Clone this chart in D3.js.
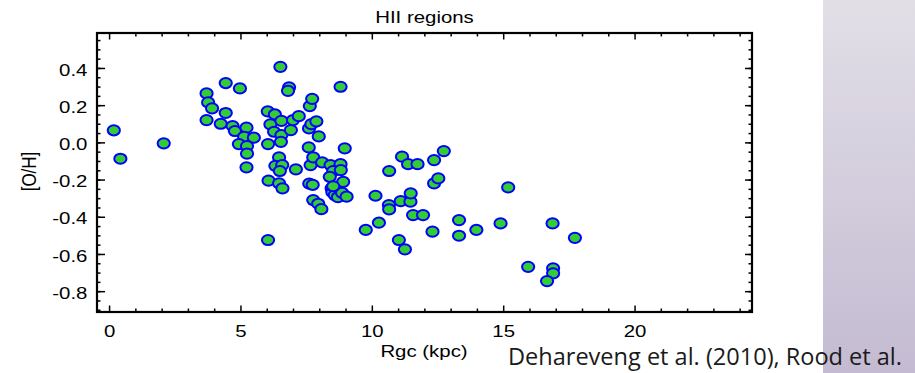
<!DOCTYPE html>
<html>
<head>
<meta charset="utf-8">
<script src="https://cdn.jsdelivr.net/npm/d3@7"></script>
<style>
  body { margin: 0; background: #ffffff; }
  svg { display: block; }
</style>
</head>
<body>
<div id="chart"></div>
<script>
// galactocentric radius (kpc) and [O/H] of each HII region
const rgc = [
  0.18, 0.43, 2.08, 3.71, 3.77, 3.92, 3.71, 4.44, 4.98, 4.44,
  4.25, 4.70, 4.79, 5.23, 5.14, 5.51, 4.94, 5.25, 5.25, 5.23,
  6.04, 6.31, 6.14, 6.56, 6.28, 6.56, 6.92, 6.54, 6.05, 6.52,
  6.85, 6.81, 7.00, 7.22, 7.64, 7.73, 7.61, 7.70, 7.89, 7.98,
  8.81, 7.60, 8.97, 6.47, 6.33, 6.59, 6.50, 7.11, 7.67, 7.77,
  8.11, 8.43, 8.81, 8.53, 8.82, 8.40, 8.91, 6.07, 6.47, 7.62,
  7.75, 10.66, 11.15, 11.38, 11.74, 12.37, 12.74, 12.37, 12.53, 6.05,
  6.60, 7.77, 7.96, 8.08, 8.47, 8.50, 8.59, 8.71, 8.87, 9.04,
  8.53, 10.14, 10.65, 10.66, 11.10, 11.47, 11.48, 11.57, 11.95, 9.77,
  10.27, 11.03, 11.26, 12.31, 13.32, 13.32, 15.19, 13.98, 14.90, 16.88,
  17.73, 15.95, 16.90, 16.90, 16.67
];
const oh = [
  0.065, -0.088, -0.005, 0.263, 0.215, 0.183, 0.120, 0.319, 0.290, 0.158,
  0.100, 0.088, 0.061, 0.079, 0.030, 0.025, -0.009, -0.020, -0.061, -0.134,
  0.167, 0.150, 0.097, 0.116, 0.057, 0.039, 0.066, 0.003, -0.009, 0.406,
  0.296, 0.277, 0.120, 0.141, 0.195, 0.234, 0.075, 0.098, 0.113, 0.032,
  0.299, -0.027, -0.032, -0.081, -0.126, -0.122, -0.154, -0.145, -0.122, -0.081,
  -0.108, -0.122, -0.117, -0.154, -0.149, -0.185, -0.212, -0.206, -0.220, -0.222,
  -0.228, -0.154, -0.077, -0.117, -0.117, -0.095, -0.047, -0.220, -0.194, -0.525,
  -0.247, -0.310, -0.330, -0.359, -0.247, -0.268, -0.283, -0.295, -0.272, -0.292,
  -0.236, -0.287, -0.337, -0.360, -0.316, -0.319, -0.274, -0.391, -0.391, -0.471,
  -0.432, -0.525, -0.575, -0.480, -0.418, -0.502, -0.242, -0.471, -0.436, -0.436,
  -0.513, -0.669, -0.677, -0.704, -0.746
];

const xTicks = [0, 5, 10, 15, 20];
const yTicks = [-0.8, -0.6, -0.4, -0.2, 0.0, 0.2, 0.4];
const title = "HII regions";
const xTitle = "Rgc (kpc)";
const yTitle = "[O/H]";
const credit = "Dehareveng et al. (2010), Rood et al.";

const width = 915;
const height = 373;
const box = { left: 97, right: 752, top: 33, bottom: 312 };
const stretch = 1.2; // the original picture is squeezed wider than tall
const font = "'Liberation Sans', Helvetica, Arial, sans-serif";

const svg = d3.select("#chart")
  .append("svg")
  .attr("width", width)
  .attr("height", height);

// lavender slide strip on the right
const grad = svg.append("defs").append("linearGradient")
  .attr("id", "strip")
  .attr("x1", 0).attr("y1", 0).attr("x2", 0).attr("y2", 1);
grad.append("stop").attr("offset", "0%").attr("stop-color", "#e2dfe7");
grad.append("stop").attr("offset", "100%").attr("stop-color", "#c4bbd2");
svg.append("rect")
  .attr("x", 823).attr("y", 0)
  .attr("width", width - 823).attr("height", height)
  .attr("fill", "url(#strip)");

const x = d3.scaleLinear().domain([-0.46, 24.47]).range([box.left, box.right]);
const y = d3.scaleLinear().domain([-0.912, 0.588]).range([box.bottom, box.top]);

const xMinor = d3.range(0, 25, 1);
const yMinor = d3.range(-0.9, 0.58, 0.05);

// ticks on all four sides, pointing inward
function ticks(axis, transform, values, size, digits) {
  const g = svg.append("g")
    .attr("transform", transform)
    .call(axis.tickValues(values).tickSize(size).tickSizeOuter(0)
      .tickFormat(digits == null ? "" : (d => d.toFixed(digits))));
  g.select(".domain").remove();
  g.selectAll("line").attr("stroke", "#000").attr("stroke-width", 1.5);
  g.selectAll("text")
    .attr("fill", "#000")
    .style("font-family", font)
    .style("font-size", "17px");
  return g;
}

const bottom = ticks(d3.axisBottom(x).tickPadding(13), `translate(0,${box.bottom})`, xTicks, -6.5, 0);
bottom.selectAll("text").attr("transform", `scale(${stretch},1)`);
ticks(d3.axisBottom(x), `translate(0,${box.bottom})`, xMinor.filter(v => !xTicks.includes(v)), -3.5, null);
ticks(d3.axisTop(x), `translate(0,${box.top})`, xTicks, -6.5, null);
ticks(d3.axisTop(x), `translate(0,${box.top})`, xMinor.filter(v => !xTicks.includes(v)), -3.5, null);

const left = ticks(d3.axisLeft(y).tickPadding(8), `translate(${box.left},0)`, yTicks, -8, 1);
left.selectAll("text")
  .attr("dy", "0.42em")
  .attr("transform", `scale(${stretch},1)`);
ticks(d3.axisLeft(y), `translate(${box.left},0)`, yMinor, -3.5, null);
ticks(d3.axisRight(y), `translate(${box.right},0)`, yTicks, -7, null);
ticks(d3.axisRight(y), `translate(${box.right},0)`, yMinor, -3.5, null);

svg.append("rect")
  .attr("x", box.left).attr("y", box.top)
  .attr("width", box.right - box.left).attr("height", box.bottom - box.top)
  .attr("fill", "none")
  .attr("stroke", "#000")
  .attr("stroke-width", 2.2);

// the HII regions
svg.append("g")
  .selectAll("ellipse")
  .data(d3.zip(rgc, oh))
  .enter()
  .append("ellipse")
  .attr("cx", d => x(d[0]))
  .attr("cy", d => y(d[1]))
  .attr("rx", 6.1)
  .attr("ry", 5.1)
  .attr("fill", "#33cc33")
  .attr("stroke", "#0000ff")
  .attr("stroke-width", 2);

// titles
svg.append("text")
  .attr("transform", `translate(424.5,22.5) scale(${stretch},1)`)
  .attr("text-anchor", "middle")
  .style("font-family", font)
  .style("font-size", "17px")
  .text(title);

svg.append("text")
  .attr("transform", `translate(424,357) scale(${stretch},1)`)
  .attr("text-anchor", "middle")
  .style("font-family", font)
  .style("font-size", "17px")
  .text(xTitle);

svg.append("text")
  .attr("transform", `translate(35.5,171.5) scale(${stretch},1) rotate(-90)`)
  .attr("text-anchor", "middle")
  .style("font-family", font)
  .style("font-size", "17px")
  .text(yTitle);

svg.append("text")
  .attr("x", 508)
  .attr("y", 365)
  .attr("textLength", 394)
  .attr("lengthAdjust", "spacingAndGlyphs")
  .attr("fill", "#1a1a1a")
  .style("font-family", "'Open Sans', 'Noto Sans', sans-serif")
  .style("font-size", "24px")
  .text(credit);
</script>
</body>
</html>
